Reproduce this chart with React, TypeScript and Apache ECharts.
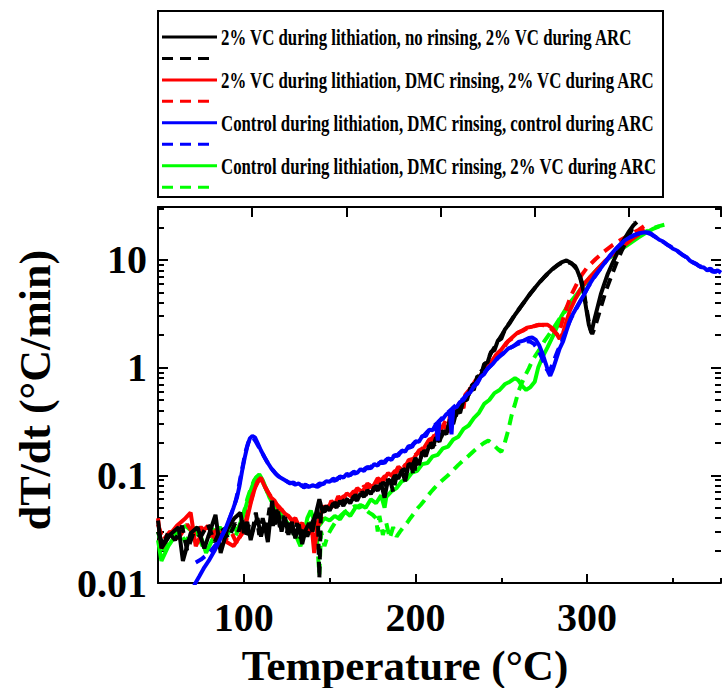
import React, { useEffect, useRef } from "react";
import * as echarts from "echarts";

const FONT = '"Liberation Serif", "Times New Roman", serif';

const legendLabels = [
  "2% VC during lithiation, no rinsing, 2% VC during ARC",
  "2% VC during lithiation, DMC rinsing, 2% VC during ARC",
  "Control during lithiation, DMC rinsing, control during ARC",
  "Control during lithiation, DMC rinsing, 2% VC during ARC",
];
const legendColors = ["#000000", "#ff0000", "#0000ff", "#00ff00"];

const xLabelValues = [100, 200, 300];
const yMajorTicks = [0.01, 0.1, 1, 10];
const yMinorTicks = [
  0.02, 0.03, 0.04, 0.05, 0.06, 0.07, 0.08, 0.09,
  0.2, 0.3, 0.4, 0.5, 0.6, 0.7, 0.8, 0.9,
  2, 3, 4, 5, 6, 7, 8, 9, 20, 30,
];

const blackSolid = [
  [50,0.038],[52,0.021],[57,0.028],[62,0.033],[64.5,0.016],[69,0.029],[73,0.033],[77,0.021],[83.5,0.043],[86.5,0.019],
  [90.5,0.032],[94.5,0.04],[98,0.045],[100,0.029],[102,0.037],[104,0.025],[106,0.034],[108,0.04],[110,0.027],[112,0.036],
  [114,0.024],[116.5,0.058],[118,0.035],[120,0.046],[122,0.03],[124,0.041],[126,0.028],[128,0.037],[130,0.026],[132,0.035],
  [134,0.023],[136,0.031],[138,0.036],[140,0.03],[142,0.044],[144,0.06],[146,0.045],[148,0.052],[150,0.047],[152,0.055],
  [154,0.05],[156,0.058],[158,0.052],[160,0.06],[162,0.055],[164,0.064],[166,0.058],[168,0.068],[170,0.063],[172,0.073],
  [174,0.067],[176,0.078],[178,0.072],[180,0.084],[182,0.062],[184,0.092],[186,0.086],[188,0.1],[190,0.093],[192,0.112],
  [194,0.088],[196,0.128],[198,0.12],[200,0.145],[202,0.125],[204,0.165],[206,0.15],[208,0.19],[210,0.18],[212,0.225],
  [214,0.205],[216,0.26],[218,0.24],[220,0.33],[222,0.3],[224,0.4],[226,0.38],[228,0.5],[230,0.5],[232,0.65],
  [234,0.62],[236,0.83],[238,0.82],[240,1.08],[242,1.12],[244,1.4],[246,1.45],[248,1.78],[250,1.85],[252,2.25],
  [255,2.6],[258,3.1],[261,3.6],[264,4.2],[267,4.9],[270,5.6],[273,6.4],[276,7.2],[279,8.0],[282,8.8],
  [285,9.5],[288,9.9],[291,9.3],[294,8.2],[296,6.8],[298,5.0],[299.5,3.5],[301,2.5],[302.5,2.1],[304,2.7],
  [306,3.6],[308,4.8],[310,6.0],[312,7.4],[315,9.5],[318,12],[321,15],[324,18],[327,21],[329,22.5],
];

const blackDashed = [
  [50,0.03],[53,0.022],[56,0.03],[60,0.025],[64,0.034],[67,0.02],[71,0.03],[75,0.027],[79,0.035],[83,0.024],
  [87,0.033],[91,0.026],[95,0.036],[97,0.03],[99,0.04],[101,0.027],[103,0.035],[105,0.03],[107,0.045],[109,0.028],
  [111,0.04],[113,0.03],[115,0.05],[117,0.034],[119,0.048],[121,0.033],[123,0.042],[125,0.029],[127,0.038],[129,0.028],
  [131,0.036],[133,0.026],[135,0.033],[137,0.027],[139,0.034],[141,0.04],[143,0.05],[144,0.011],[145,0.052],[147,0.046],
  [149,0.05],[151,0.048],[153,0.056],[155,0.052],[157,0.06],[159,0.055],[161,0.062],[163,0.057],[165,0.066],[167,0.061],
  [169,0.07],[171,0.065],[173,0.075],[175,0.07],[177,0.08],[179,0.074],[181,0.086],[183,0.08],[185,0.094],[187,0.07],
  [189,0.1],[191,0.097],[193,0.115],[195,0.108],[197,0.13],[199,0.1],[201,0.15],[203,0.145],[205,0.17],[207,0.16],
  [209,0.2],[211,0.19],[213,0.23],[215,0.225],[217,0.27],[219,0.27],[221,0.34],[223,0.33],[225,0.42],[227,0.43],
  [229,0.54],[231,0.56],[233,0.69],[235,0.72],[237,0.88],[239,0.95],[242,1.2],[245,1.45],[248,1.75],[251,2.1],
  [254,2.5],[257,2.95],[260,3.45],[263,4.0],[266,4.65],[269,5.35],[272,6.1],[275,6.9],[278,7.7],[281,8.5],
  [284,9.2],[287,9.6],[290,9.4],[293,8.8],[295,7.6],[297,6.2],[298.5,4.6],[300,3.3],[301.5,2.4],[303,2.05],
  [305,2.5],[307,3.2],[309,4.1],[311,5.2],[314,7.0],[317,9.3],[320,12],[323,15],[326,19],[328,22.5],
];

const redSolid = [
  [50,0.04],[52,0.021],[56,0.027],[61,0.034],[66,0.04],[69,0.045],[72,0.022],[76,0.03],[79,0.034],[83,0.026],
  [86,0.03],[90,0.024],[94,0.022],[97,0.026],[100,0.03],[102,0.04],[104,0.055],[106,0.072],[108,0.088],[110,0.095],
  [112,0.08],[114,0.07],[116,0.062],[118,0.058],[120,0.05],[122,0.048],[124,0.044],[126,0.042],[128,0.038],[130,0.04],
  [132,0.034],[134,0.036],[136,0.03],[138,0.033],[140,0.028],[141,0.019],[143,0.036],[145,0.044],[147,0.052],[149,0.048],
  [151,0.058],[153,0.053],[155,0.064],[157,0.058],[160,0.068],[163,0.063],[166,0.076],[169,0.07],[172,0.084],[175,0.077],
  [178,0.094],[181,0.087],[184,0.105],[187,0.097],[190,0.12],[193,0.11],[196,0.138],[199,0.143],[202,0.17],[205,0.18],
  [208,0.215],[211,0.225],[214,0.27],[217,0.29],[219,0.25],[220,0.36],[223,0.4],[226,0.48],[228,0.42],[229,0.56],
  [232,0.64],[235,0.76],[238,0.85],[241,1.0],[244,1.12],[247,1.32],[250,1.47],[253,1.7],[256,1.88],[259,2.08],
  [262,2.2],[265,2.35],[268,2.4],[271,2.48],[274,2.5],[277,2.5],[280,2.3],[282,2.08],[284,1.85],[286,2.1],
  [288,2.7],[290,3.4],[293,4.3],[296,5.3],[299,6.2],[302,7.0],[306,8.2],[310,9.6],[314,11],[318,12.4],
  [322,13.8],[326,15.5],[330,17.2],[333,19.5],
];

const redDashed = [
  [50,0.035],[53,0.025],[57,0.03],[62,0.026],[67,0.035],[71,0.028],[75,0.033],[80,0.027],[85,0.032],[89,0.025],
  [93,0.029],[96,0.023],[99,0.03],[101,0.037],[103,0.05],[105,0.065],[107,0.08],[109,0.092],[111,0.086],[113,0.075],
  [115,0.066],[117,0.06],[119,0.054],[121,0.05],[123,0.046],[125,0.043],[127,0.04],[129,0.037],[131,0.035],[133,0.032],
  [135,0.034],[137,0.029],[139,0.031],[141,0.027],[143,0.033],[145,0.04],[147,0.047],[149,0.052],[151,0.05],[153,0.058],
  [155,0.056],[158,0.064],[161,0.062],[164,0.071],[167,0.069],[170,0.079],[173,0.077],[176,0.088],[179,0.085],[182,0.098],
  [185,0.095],[188,0.11],[191,0.107],[194,0.125],[197,0.13],[200,0.155],[203,0.165],[206,0.2],[209,0.21],[212,0.25],
  [215,0.27],[218,0.33],[221,0.36],[224,0.44],[227,0.47],[230,0.58],[233,0.65],[236,0.78],[239,0.86],[242,1.03],
  [245,1.14],[248,1.36],[251,1.5],[254,1.76],[257,1.9],[260,2.12],[263,2.22],[266,2.38],[269,2.42],[272,2.5],
  [275,2.48],[278,2.38],[281,2.15],[283,2.0],[285,2.5],[288,3.6],[291,4.8],[294,6.0],[297,7.3],[300,8.5],
  [305,10.2],[310,12],[315,13.8],[320,15.5],[325,17.2],[330,19],[334,21],
];

const blueSolid = [
  [71,0.0095],[74,0.0115],[77,0.014],[80,0.0165],[83,0.02],[86,0.025],[88,0.029],[90,0.034],[92,0.041],[94,0.05],
  [96,0.062],[97.5,0.08],[99,0.11],[100.5,0.145],[102,0.185],[103.5,0.22],[105,0.232],[106.5,0.225],[108,0.2],[110,0.17],
  [112,0.148],[114,0.13],[116,0.116],[118,0.106],[120,0.098],[122,0.094],[124,0.09],[126,0.086],[128,0.085],[130,0.082],
  [132,0.084],[134,0.079],[136,0.082],[138,0.078],[140,0.081],[142,0.079],[144,0.084],[146,0.083],[148,0.088],[150,0.087],
  [152,0.093],[154,0.09],[156,0.098],[158,0.095],[160,0.103],[162,0.1],[164,0.108],[166,0.105],[168,0.114],[170,0.11],
  [172,0.12],[174,0.116],[176,0.127],[178,0.123],[180,0.135],[182,0.13],[184,0.144],[186,0.139],[188,0.155],[190,0.152],
  [192,0.17],[194,0.166],[196,0.187],[198,0.183],[200,0.207],[202,0.205],[204,0.232],[206,0.232],[208,0.265],[210,0.262],
  [212,0.3],[213,0.21],[214,0.32],[216,0.335],[218,0.37],[220,0.38],[221,0.24],[222,0.42],[224,0.43],[226,0.48],
  [228,0.5],[230,0.56],[232,0.59],[234,0.67],[236,0.71],[238,0.82],[240,0.87],[242,0.98],[245,1.08],[248,1.24],
  [251,1.34],[254,1.5],[257,1.58],[260,1.73],[263,1.78],[266,1.88],[268,1.9],[270,1.82],[272,1.62],[274,1.35],
  [276,1.08],[277.5,0.9],[278.5,0.84],[280,0.96],[282,1.2],[284,1.5],[286,1.75],[288,2.2],[290,2.75],[292,3.2],
  [295,3.9],[298,4.7],[301,5.8],[304,6.9],[307,8.0],[310,9.3],[313,10.8],[316,12.3],[319,13.8],[322,15.2],
  [325,16.3],[328,17.2],[331,17.8],[334,18.1],[336,18.0],[338,17.2],[340,16.3],[342,15.4],[344,14.9],[346,14.1],
  [348,13.5],[350,12.7],[352,12.3],[354,11.6],[356,11.0],[358,10.6],[360,9.8],[362,9.4],[364,9.1],[366,8.6],
  [368,8.5],[370,8.0],[372,8.3],[374,7.7],[376,8.0],[378,7.6],
];

const blueDashed = [
  [72,0.0155],[75,0.0165],[78,0.018],[81,0.02],[84,0.023],[87,0.027],[89,0.031],[91,0.037],[93,0.045],[95,0.056],
  [96.5,0.07],[98,0.095],[99.5,0.125],[101,0.165],[102.5,0.2],[104,0.225],[105.5,0.222],[107,0.205],[109,0.18],[111,0.158],
  [113,0.138],[115,0.122],[117,0.111],[119,0.102],[121,0.096],[123,0.091],[125,0.088],[127,0.084],[129,0.086],[131,0.08],
  [133,0.083],[135,0.077],[137,0.08],[139,0.076],[141,0.08],[143,0.078],[145,0.082],[147,0.084],[149,0.086],[151,0.09],
  [153,0.089],[155,0.095],[157,0.094],[159,0.1],[161,0.099],[163,0.105],[165,0.104],[167,0.111],[169,0.11],[171,0.117],
  [173,0.116],[175,0.124],[177,0.123],[179,0.131],[181,0.13],[183,0.14],[185,0.139],[187,0.15],[189,0.152],[191,0.163],
  [193,0.165],[195,0.178],[197,0.182],[199,0.198],[201,0.205],[203,0.222],[205,0.235],[207,0.255],[209,0.27],[211,0.29],
  [213,0.31],[215,0.335],[217,0.36],[219,0.385],[221,0.41],[223,0.44],[225,0.47],[227,0.5],[229,0.54],[231,0.59],
  [233,0.64],[235,0.7],[237,0.77],[239,0.85],[241,0.93],[244,1.05],[247,1.18],[250,1.32],[253,1.44],[256,1.55],
  [259,1.64],[262,1.72],[265,1.76],[267,1.74],[269,1.66],[271,1.5],[273,1.3],[275,1.1],[276.5,0.96],[277.5,0.92],
  [279,1.0],[281,1.2],[283,1.45],[285,1.7],[287,2.05],[289,2.5],[291,2.95],[294,3.6],[297,4.4],[300,5.4],
  [303,6.5],[306,7.6],[309,8.8],[312,10.2],[315,11.7],[318,13.2],[321,14.6],[324,15.8],[327,16.8],[330,17.5],
  [333,17.9],[335,17.8],[337,17.4],[339,16.6],[341,15.8],[343,15.0],[345,14.5],[347,13.7],[349,13.2],[351,12.4],
  [353,12.0],[355,11.3],[357,10.8],[359,10.2],[361,9.6],[363,9.3],[365,8.8],[367,8.6],[369,8.2],[371,8.2],
  [373,7.8],[375,7.9],[378,7.5],
];

const greenSolid = [
  [50,0.025],[52,0.016],[56,0.022],[61,0.029],[66,0.034],[70,0.03],[75,0.027],[78,0.019],[82,0.026],[86,0.033],
  [90,0.027],[93,0.036],[96,0.03],[99,0.04],[101,0.05],[103,0.065],[105,0.08],[107,0.095],[109,0.102],[111,0.09],
  [113,0.075],[115,0.062],[117,0.055],[119,0.05],[121,0.045],[123,0.04],[125,0.037],[127,0.033],[129,0.03],[131,0.026],
  [133,0.022],[135,0.028],[137,0.04],[139,0.047],[141,0.038],[143,0.033],[145,0.036],[147,0.04],[150,0.038],[153,0.042],
  [156,0.039],[159,0.046],[162,0.042],[165,0.05],[168,0.053],[171,0.05],[174,0.06],[177,0.055],[180,0.065],[182,0.05],
  [183,0.063],[186,0.071],[189,0.076],[192,0.088],[195,0.092],[198,0.106],[201,0.11],[204,0.127],[207,0.13],[210,0.15],
  [213,0.155],[216,0.178],[219,0.185],[222,0.215],[225,0.228],[228,0.27],[231,0.29],[234,0.34],[237,0.38],[240,0.46],
  [243,0.5],[246,0.58],[249,0.62],[252,0.7],[255,0.74],[258,0.8],[260,0.76],[262,0.68],[264.5,0.62],[267,0.66],
  [269.5,0.74],[271.5,1.0],[274,1.25],[277,1.55],[280,1.95],[283,2.5],[285,3.0],[288,3.6],[291,4.2],[294,4.8],
  [298,5.8],[302,7.0],[306,8.2],[310,9.5],[314,10.8],[318,12],[322,13.2],[326,14.6],[330,16.2],[334,17.8],
  [338,19.3],[342,20.5],
];

const greenDashed = [
  [50,0.03],[53,0.02],[57,0.026],[62,0.031],[66,0.024],[71,0.033],[76,0.022],[80,0.028],[84,0.035],[88,0.025],
  [92,0.031],[95,0.027],[98,0.035],[100,0.045],[102,0.06],[104,0.075],[106,0.09],[108,0.098],[110,0.093],[112,0.08],
  [114,0.068],[116,0.058],[118,0.052],[120,0.047],[122,0.042],[124,0.038],[126,0.034],[128,0.031],[130,0.027],[132,0.024],
  [134,0.03],[136,0.036],[138,0.033],[140,0.04],[142,0.035],[144,0.012],[145,0.03],[147,0.022],[149,0.028],[151,0.032],
  [153,0.036],[155,0.04],[157,0.043],[159,0.046],[161,0.048],[163,0.05],[165,0.052],[167,0.05],[169,0.052],[171,0.048],
  [173,0.045],[175,0.043],[177,0.04],[178,0.03],[179,0.042],[181,0.028],[183,0.036],[185,0.026],[187,0.033],[189,0.027],
  [191,0.03],[193,0.033],[195,0.036],[197,0.04],[199,0.044],[201,0.049],[203,0.053],[205,0.058],[207,0.064],[209,0.07],
  [211,0.076],[213,0.082],[215,0.088],[217,0.094],[219,0.1],[222,0.112],[225,0.125],[228,0.138],[231,0.152],[234,0.168],
  [237,0.185],[240,0.2],[242.5,0.21],[245,0.195],[248,0.175],[250,0.165],[252,0.2],[254,0.26],[256,0.36],[258,0.46],
  [260,0.6],[262,0.72],[264,0.85],[266,0.98],[268,1.15],[270,1.3],[272,1.45],[275,1.75],[278,2.05],[281,2.4],
  [284,2.85],[287,3.3],[290,3.8],[294,4.6],[298,5.6],[302,6.7],[306,8.0],[310,9.4],[314,10.8],[318,12.2],
  [322,13.6],[326,15],[330,16.6],[334,18.2],[338,19.6],[342,20.6],[345,21.2],
];

const seriesDefs = [
  { data: greenDashed, color: "#00ff00", dashed: true },
  { data: greenSolid, color: "#00ff00", dashed: false },
  { data: redDashed, color: "#ff0000", dashed: true },
  { data: redSolid, color: "#ff0000", dashed: false },
  { data: blackDashed, color: "#000000", dashed: true },
  { data: blackSolid, color: "#000000", dashed: false },
  { data: blueDashed, color: "#0000ff", dashed: true },
  { data: blueSolid, color: "#0000ff", dashed: false },
];

const axisLineStyle = { color: "#000", width: 2 };

function buildGraphics(): any[] {
  const els: any[] = [
    {
      type: "rect",
      shape: { x: 158, y: 11, width: 505, height: 186 },
      style: { fill: "#fff", stroke: "#000", lineWidth: 2 },
      z: 10,
    },
  ];
  legendLabels.forEach((label, i) => {
    const ySolid = 37 + i * 2 * 21.45;
    const yDash = ySolid + 21.45;
    const color = legendColors[i];
    els.push({
      type: "line",
      shape: { x1: 162, y1: ySolid, x2: 217, y2: ySolid },
      style: { stroke: color, lineWidth: 3 },
      z: 11,
    });
    els.push({
      type: "line",
      shape: { x1: 162, y1: yDash, x2: 209, y2: yDash },
      style: { stroke: color, lineWidth: 3, lineDash: [11, 7] },
      z: 11,
    });
    els.push({
      type: "text",
      x: 221,
      y: ySolid,
      scaleX: 0.7,
      z: 11,
      style: {
        text: label,
        fontFamily: FONT,
        fontWeight: "bold",
        fontSize: 24,
        fill: "#000",
        align: "left",
        verticalAlign: "middle",
        textAlign: "left",
        textVerticalAlign: "middle",
      },
    });
  });
  els.push({
    type: "text",
    x: 405,
    y: 665,
    z: 11,
    style: {
      text: "Temperature (°C)",
      fontFamily: FONT,
      fontWeight: "bold",
      fontSize: 43,
      fill: "#000",
      align: "center",
      verticalAlign: "middle",
      textAlign: "center",
      textVerticalAlign: "middle",
    },
  });
  els.push({
    type: "text",
    x: 35,
    y: 390,
    rotation: Math.PI / 2,
    z: 11,
    style: {
      text: "dT/dt (°C/min)",
      fontFamily: FONT,
      fontWeight: "bold",
      fontSize: 44,
      fill: "#000",
      align: "center",
      verticalAlign: "middle",
      textAlign: "center",
      textVerticalAlign: "middle",
    },
  });
  return els;
}

export default function App() {
  const ref = useRef<HTMLDivElement>(null);
  useEffect(() => {
    if (!ref.current) return;
    const chart = echarts.init(ref.current, undefined, { renderer: "svg", width: 724, height: 688 });
    const labelStyle = {
      fontFamily: FONT,
      fontWeight: "bold" as const,
      fontSize: 40,
      color: "#000",
    };
    const option: any = {
      animation: false,
      backgroundColor: "#ffffff",
      grid: { left: 158, top: 207, width: 566, height: 376, containLabel: false },
      xAxis: [
        {
          type: "value",
          position: "bottom",
          min: 50,
          max: 378,
          interval: 50,
          axisLine: { show: true, lineStyle: axisLineStyle },
          axisTick: { show: true, inside: true, length: 5, lineStyle: axisLineStyle },
          axisLabel: {
            ...labelStyle,
            margin: 34,
            verticalAlign: "middle",
            showMinLabel: true,
            showMaxLabel: true,
            formatter: (v: number) => (xLabelValues.indexOf(v) >= 0 ? String(v) : ""),
          },
          splitLine: { show: false },
        },
        {
          type: "value",
          position: "bottom",
          min: 50,
          max: 378,
          axisLine: { show: false },
          axisTick: { show: true, inside: true, length: 9, lineStyle: axisLineStyle, customValues: xLabelValues },
          axisLabel: { show: false },
          splitLine: { show: false },
        },
        {
          type: "value",
          position: "top",
          min: 0,
          max: 5.977,
          interval: 1,
          axisLine: { show: true, lineStyle: axisLineStyle },
          axisTick: { show: true, inside: true, length: 10, lineStyle: axisLineStyle },
          axisLabel: { show: false },
          splitLine: { show: false },
        },
      ],
      yAxis: [
        {
          type: "log",
          logBase: 10,
          position: "left",
          min: 0.01,
          max: 31,
          axisLine: { show: true, lineStyle: axisLineStyle },
          axisTick: { show: true, inside: true, length: 10, lineStyle: axisLineStyle, customValues: yMajorTicks },
          axisLabel: {
            ...labelStyle,
            margin: 11,
            customValues: yMajorTicks,
            formatter: (v: number) => {
              const l = Math.log10(v);
              return Math.abs(l - Math.round(l)) < 1e-6 ? String(v) : "";
            },
          },
          splitLine: { show: false },
          minorTick: { show: false },
        },
        {
          type: "log",
          logBase: 10,
          position: "left",
          min: 0.01,
          max: 31,
          axisLine: { show: false },
          axisTick: { show: true, inside: true, length: 6, lineStyle: axisLineStyle, customValues: yMinorTicks },
          axisLabel: { show: false },
          splitLine: { show: false },
        },
        {
          type: "log",
          logBase: 10,
          position: "right",
          min: 0.01,
          max: 31,
          axisLine: { show: false },
          axisTick: { show: true, inside: true, length: 10, lineStyle: axisLineStyle, customValues: yMajorTicks },
          axisLabel: { show: false },
          splitLine: { show: false },
        },
        {
          type: "log",
          logBase: 10,
          position: "right",
          min: 0.01,
          max: 31,
          axisLine: { show: false },
          axisTick: { show: true, inside: true, length: 6, lineStyle: axisLineStyle, customValues: yMinorTicks },
          axisLabel: { show: false },
          splitLine: { show: false },
        },
      ],
      series: seriesDefs.map((d) => ({
        type: "line",
        data: d.data,
        xAxisIndex: 0,
        yAxisIndex: 0,
        showSymbol: false,
        symbol: "none",
        clip: true,
        silent: true,
        lineStyle: { color: d.color, width: 4, type: d.dashed ? [11, 7] : "solid" },
        itemStyle: { color: d.color },
      })),
      graphic: { elements: buildGraphics() },
    };
    chart.setOption(option);
    return () => chart.dispose();
  }, []);
  return (
    <div
      ref={ref}
      style={{ position: "fixed", left: 0, top: 0, width: 724, height: 688, background: "#fff" }}
    />
  );
}
